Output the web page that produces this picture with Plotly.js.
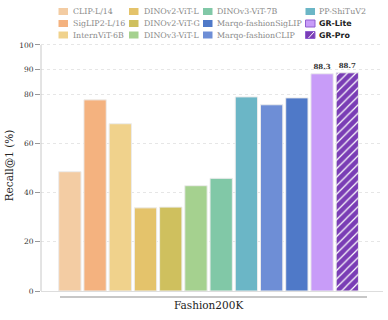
<!DOCTYPE html>
<html><head><meta charset="utf-8">
<script src="https://cdn.plot.ly/plotly-3.0.1.min.js"></script>
<style>html,body{margin:0;padding:0;background:#fff;}#chart{width:388px;height:320px;}</style>
</head><body><div id="chart"></div>
<script>
// ---- data ----
const category = ['Fashion200K'];
const models = ['CLIP-L/14','SigLIP2-L/16','InternViT-6B','DINOv2-ViT-L','DINOv2-ViT-G','DINOv3-ViT-L','DINOv3-ViT-7B','PP-ShiTuV2','Marqo-fashionCLIP','Marqo-fashionSigLIP','GR-Lite','GR-Pro'];
const recall = [48.5, 77.7, 68.0, 33.8, 34.1, 42.8, 45.8, 78.9, 75.7, 78.5, 88.3, 88.7];
const colors = ['#f3cca3','#f4b27f','#f0d28c','#e4c36b','#cfc05e','#a5d18f','#81c8a7','#6bb6c6','#6e8ed6','#4f79c8','#c89cf8','#7a3db5'];
const labeledModels = ['GR-Lite','GR-Pro'];
const hatchedModels = ['GR-Pro'];
const legendOrder = ['CLIP-L/14','SigLIP2-L/16','InternViT-6B','DINOv2-ViT-L','DINOv2-ViT-G','DINOv3-ViT-L','DINOv3-ViT-7B','Marqo-fashionSigLIP','Marqo-fashionCLIP','PP-ShiTuV2','GR-Lite','GR-Pro'];
const yTicks = [0, 20, 40, 60, 80, 90, 100];

// ---- geometry helpers (layout only) ----
const W = 388, H = 320;
const M = {l: 41, r: 5, t: 40, b: 29};
const PW = W - M.l - M.r, PH = H - M.t - M.b;
const px2x = p => (p - M.l) / PW;
const py2y = p => (H - M.b - p) / PH;

const serif = 'DejaVu Serif, serif';
const sans = 'DejaVu Sans, sans-serif';

const traces = models.map((m, i) => {
  const hatch = hatchedModels.includes(m);
  const t = {
    type: 'bar', name: m, x: category, y: [recall[i]], showlegend: false,
    marker: {color: colors[i], line: {color: '#ececec', width: 1}},
    cliponaxis: false, hoverinfo: 'skip'
  };
  if (hatch) {
    t.marker.pattern = {shape: '/', fgcolor: '#ffffff', bgcolor: colors[i], size: 6, solidity: 0.2, fillmode: 'replace'};
  }
  if (labeledModels.includes(m)) {
    t.texttemplate = '%{y:.1f}';
    t.textposition = 'outside';
    t.textfont = {family: serif, size: 7, color: '#333', weight: 'bold'};
  }
  return t;
});

// manual legend, column-major, 3 rows x 4 columns
const colPatch = [58.5, 129, 203, 305.5];
const colText = [70.5, 141.5, 215, 317];
const rowY = [11.5, 23.5, 35];
const shapes = [];
const annotations = [];
legendOrder.forEach((m, k) => {
  const c = Math.floor(k / 3), r = k % 3;
  const i = models.indexOf(m);
  const bold = labeledModels.includes(m);
  const x0 = colPatch[c], x1 = colPatch[c] + 9.5, yc = rowY[r];
  shapes.push({type: 'rect', xref: 'paper', yref: 'paper', x0: px2x(x0), x1: px2x(x1), y0: py2y(yc + 3.5), y1: py2y(yc - 3.5),
    fillcolor: colors[i], line: {width: bold ? 1 : 0, color: bold ? '#8f5fd0' : colors[i]}});
  if (hatchedModels.includes(m)) {
    shapes.push({type: 'line', xref: 'paper', yref: 'paper', x0: px2x(x0 + 3), x1: px2x(x1 - 1), y0: py2y(yc + 3), y1: py2y(yc - 3),
      line: {color: '#ffffff', width: 1}});
  }
  annotations.push({xref: 'paper', yref: 'paper', x: px2x(colText[c]), y: py2y(yc), xanchor: 'left', yanchor: 'middle',
    text: bold ? '<b>' + m + '</b>' : m, showarrow: false,
    font: {family: bold ? sans : serif, size: 7.9, color: bold ? '#222' : '#8a8a8a'}});
});

// left spine (trimmed at top tick) and offset bottom spine
shapes.push({type: 'line', xref: 'paper', yref: 'y', x0: 0, x1: 0, y0: 0, y1: yTicks[yTicks.length - 1], line: {color: '#c8c8c8', width: 1}});
shapes.push({type: 'line', xref: 'paper', yref: 'paper', x0: px2x(60), x1: px2x(367), y0: py2y(297), y1: py2y(297), line: {color: '#b4b4b4', width: 1.5}});

const layout = {
  width: W, height: H, margin: M,
  paper_bgcolor: '#ffffff', plot_bgcolor: '#ffffff',
  barmode: 'group', bargap: 0.115, bargroupgap: 0.115,
  showlegend: false,
  font: {family: serif, color: '#333'},
  xaxis: {
    type: 'category', range: [-0.49, 0.51], showgrid: false, zeroline: false,
    showline: true, linecolor: '#dddddd', linewidth: 1, ticks: '',
    tickfont: {family: serif, size: 10.5, color: '#222'}, ticklabelstandoff: 4, automargin: false
  },
  yaxis: {
    range: [0, 102.03], tickvals: yTicks, ticktext: yTicks.map(String),
    showgrid: true, gridcolor: '#e6e6e6', griddash: 'dot', gridwidth: 1,
    zeroline: false, showline: false, ticks: 'outside', ticklen: 5, tickcolor: '#999', tickwidth: 1,
    tickfont: {family: serif, size: 7.5, color: '#333'},
    title: {text: 'Recall@1 (%)', font: {family: serif, size: 10.5, color: '#222'}, standoff: 3},
    automargin: false
  },
  shapes: shapes, annotations: annotations
};

Plotly.newPlot('chart', traces, layout, {displayModeBar: false, staticPlot: true});
</script></body></html>
